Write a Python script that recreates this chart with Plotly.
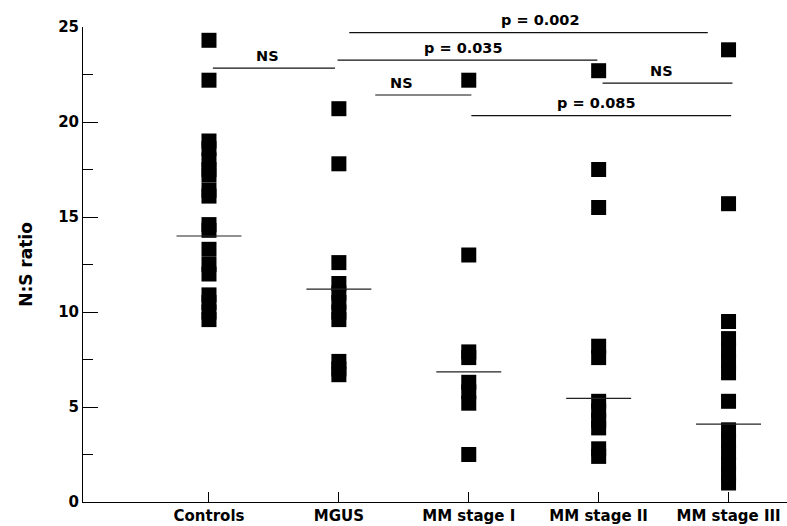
import plotly.graph_objects as go

categories = ["Controls", "MGUS", "MM stage I", "MM stage II", "MM stage III"]

controls = [24.3, 22.2, 19.0, 18.6, 18.0, 17.5, 17.2, 16.4, 16.1, 14.6, 14.3,
            13.3, 12.5, 12.0, 10.9, 10.5, 10.0, 9.6]
mgus = [20.7, 17.8, 12.6, 11.5, 11.0, 10.5, 10.0, 9.6, 7.4, 7.0, 6.7]
mm1 = [22.2, 13.0, 7.9, 7.6, 6.3, 5.8, 5.2, 2.5]
mm2 = [22.7, 17.5, 15.5, 8.2, 7.6, 5.3, 4.8, 4.3, 3.9, 2.8, 2.4]
mm3 = [23.8, 15.7, 9.5, 8.6, 8.0, 7.4, 6.8, 5.3, 3.8, 3.2, 2.6, 2.0, 1.5, 1.0]
groups = [controls, mgus, mm1, mm2, mm3]

group_lines = [14.0, 11.2, 6.85, 5.45, 4.1]

# significance brackets: label, x start, x end, y of line, x of label
bracket_labels = ["NS", "p = 0.002", "p = 0.035", "NS", "p = 0.085", "NS"]
bracket_x0 = [0.03, 1.08, 0.99, 1.28, 2.02, 3.03]
bracket_x1 = [0.97, 3.84, 2.99, 2.02, 4.02, 4.03]
bracket_y = [22.84, 24.7, 23.26, 21.42, 20.34, 22.05]
label_x = [0.45, 2.55, 1.96, 1.48, 2.98, 3.48]

font_family = "DejaVu Sans, sans-serif"

fig = go.Figure()

for i, vals in enumerate(groups):
    fig.add_trace(go.Scatter(
        x=[i] * len(vals), y=vals, mode="markers",
        marker=dict(symbol="square", size=15, color="black", line=dict(width=0)),
        showlegend=False, hoverinfo="y", cliponaxis=False))

mx, my = [], []
for i, m in enumerate(group_lines):
    mx += [i - 0.25, i + 0.25, None]
    my += [m, m, None]
fig.add_trace(go.Scatter(x=mx, y=my, mode="lines",
                         line=dict(color="#222", width=1.2),
                         showlegend=False, hoverinfo="skip"))

bx, by = [], []
for x0, x1, yv in zip(bracket_x0, bracket_x1, bracket_y):
    bx += [x0, x1, None]
    by += [yv, yv, None]
fig.add_trace(go.Scatter(x=bx, y=by, mode="lines",
                         line=dict(color="#111", width=1.2),
                         showlegend=False, hoverinfo="skip", cliponaxis=False))

for t, xv, yv in zip(bracket_labels, label_x, bracket_y):
    fig.add_annotation(x=xv, y=yv, text=t, showarrow=False,
                       xanchor="center", yanchor="middle", yshift=12.5,
                       font=dict(size=14.5, color="black", family=font_family,
                                 weight="bold"))

fig.update_layout(
    width=787, height=526,
    margin=dict(l=83, r=0, t=27, b=24),
    paper_bgcolor="white", plot_bgcolor="white",
    font=dict(family=font_family, color="black", size=15, weight="bold"),
    xaxis=dict(
        range=[-0.97, 4.45], tickvals=list(range(len(categories))),
        ticktext=categories, ticks="inside", ticklen=10, tickcolor="black",
        showline=True, linecolor="black", linewidth=1, showgrid=False,
        zeroline=False, tickfont=dict(size=15, weight="bold")),
    yaxis=dict(
        range=[0, 25], tickvals=[0, 5, 10, 15, 20, 25], ticks="inside",
        ticklen=15, tickcolor="black", showline=True, linecolor="black",
        linewidth=1, showgrid=False, zeroline=False,
        tickfont=dict(size=15, weight="bold"),
        minor=dict(ticks="inside", ticklen=10, dtick=2.5, tickcolor="black", showgrid=False),
        title=dict(text="N:S ratio", font=dict(size=17, weight="bold"), standoff=21)),
)

fig.write_html("out.html")
